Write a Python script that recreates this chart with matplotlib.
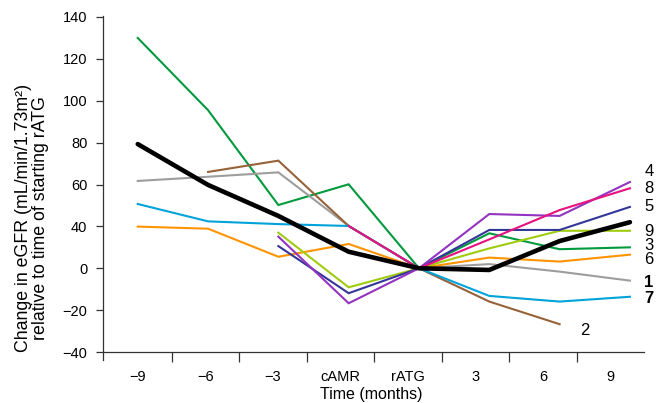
import numpy as np
from matplotlib import pyplot as plt

plt.rcParams['font.family'] = ['Liberation Sans', 'DejaVu Sans']

# Categories on the time axis
timepoints = ['\u22129', '\u22126', '\u22123', 'cAMR', 'rATG', '3', '6', '9']
nan = np.nan

# Change in eGFR per patient (0 = rATG)
green = [110, 75.5, 30.2, 40.1, 0, 16.7, 9.1, 10.0]
gray = [41.7, 43.7, 45.8, 20.2, 0, 2.0, -1.6, -5.9]
brown = [nan, 46.0, 51.4, 20.2, 0, -15.9, -26.7, nan]
cyan = [30.7, 22.4, 21.1, 20.2, 0, -13.2, -15.9, -13.6]
orange = [19.9, 18.9, 5.5, 11.6, 0, 5.1, 3.2, 6.5]
lime = [nan, nan, 17.0, -9.1, 0, 9.5, 17.9, 17.9]
navy = [nan, nan, 10.6, -11.9, 0, 18.3, 18.3, 29.3]
purple = [nan, nan, 15.1, -16.7, 0, 25.9, 25.0, 41.2]
pink = [nan, nan, nan, 20.2, 0, 13.8, 27.8, 38.2]
mean_line = [59.3, 39.8, 25.0, 7.9, 0, -0.8, 13.0, 22.0]

# y tick positions and the labels printed on them in the original figure
ytick_pos = [-40, -20, 0, 20, 40, 60, 80, 100, 120]
ytick_labels = ['\u221240', '\u221220', '0', '40', '60', '80', '100', '120', '140']

series = [
    (green, '#009a3e'), (gray, '#9d9d9d'), (brown, '#96623a'),
    (cyan, '#00a3d9'), (orange, '#ff9400'), (lime, '#9fcc0e'),
    (navy, '#35369a'), (purple, '#9234c0'), (pink, '#e6127f'),
]

# line end labels: (text, x, y, bold)
end_labels = [
    ('4', 7.27, 46.2, False), ('8', 7.27, 38.1, False), ('5', 7.27, 29.5, False),
    ('9', 7.27, 17.7, False), ('3', 7.27, 11.1, False), ('6', 7.27, 4.4, False),
    ('1', 7.27, -7.0, True), ('7', 7.27, -14.5, True), ('2', 6.36, -29.5, False),
]

fig = plt.figure(figsize=(6.67, 4.03), dpi=100)
ax = fig.add_axes([0.154, 0.1067, 0.8115, 0.8543])

x = np.arange(len(timepoints))
for vals, col in series:
    ax.plot(x, vals, color=col, lw=1.5, solid_joinstyle='miter')
ax.plot(x, mean_line, color='black', lw=3.3, solid_capstyle='round')

for txt, tx, ty, bold in end_labels:
    ax.text(tx, ty, txt, fontsize=12, ha='center', va='center',
            fontweight='bold' if bold else 'normal')

ax.set_xlim(-0.498, 7.2)
ax.set_ylim(-43.8, 120.6)

ax.spines['top'].set_visible(False)
ax.spines['right'].set_visible(False)
ax.spines['bottom'].set_position(('data', -40))
for s in ['left', 'bottom']:
    ax.spines[s].set_linewidth(0.9)
    ax.spines[s].set_color('#333333')

ax.set_yticks(ytick_pos)
ax.set_yticklabels(ytick_labels)
ax.tick_params(axis='y', length=5, width=0.9, labelsize=10.5, color='#333333', pad=6)

# category labels sit slightly left of the data points in the original
step = 0.961
ax.set_xticks(x * step)
ax.set_xticklabels(timepoints)
ax.set_xticks((x[:-1] + 0.5) * step, minor=True)
ax.tick_params(axis='x', which='major', length=0, labelsize=10.5, pad=13)
ax.tick_params(axis='x', which='minor', length=7, width=0.9, direction='out', color='#333333')

fig.text(371.7 / 667, 1 - 394 / 403, 'Time (months)', ha='center', va='center', fontsize=11.5)
fig.text(32 / 667, 1 - 218 / 403,
         'Change in eGFR (mL/min/1.73m\u00b2)\nrelative to time of starting rATG',
         rotation=90, ha='center', va='center', fontsize=12.8, multialignment='center',
         linespacing=1.05)

fig.savefig('out.png', dpi=100)
